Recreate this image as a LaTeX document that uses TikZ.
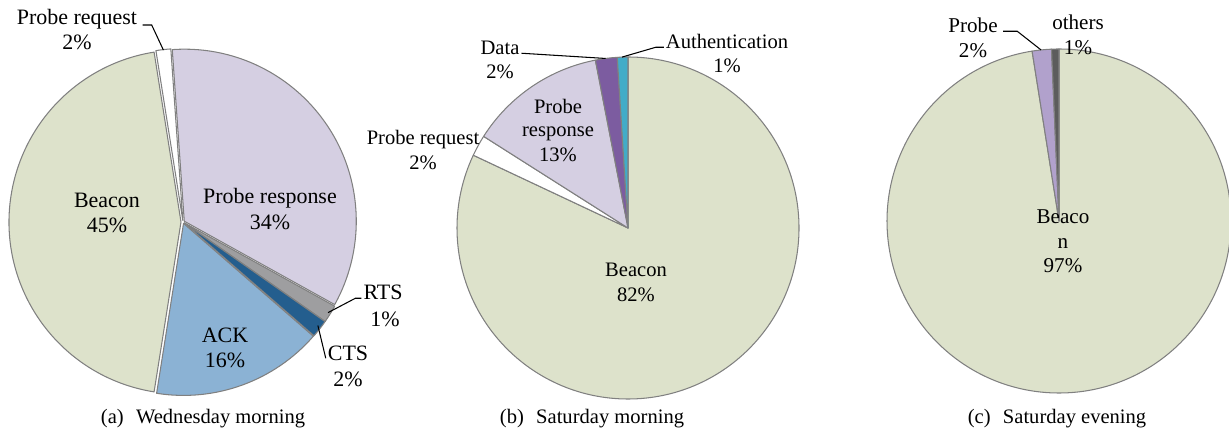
\documentclass[tikz,border=0pt]{standalone}
\usepackage{fontspec}
\setmainfont{Liberation Serif}

\definecolor{beacon}{RGB}{221,226,203}
\definecolor{prresp}{RGB}{213,207,226}
\definecolor{ack}{RGB}{139,178,212}
\definecolor{cts}{RGB}{36,94,142}
\definecolor{rts}{RGB}{158,158,160}
\definecolor{data}{RGB}{124,92,160}
\definecolor{auth}{RGB}{66,172,200}
\definecolor{probe}{RGB}{177,161,204}
\definecolor{others}{RGB}{92,92,92}
\definecolor{rim}{RGB}{128,128,128}

\begin{document}
\begin{tikzpicture}[x=0.02cm,y=0.02cm,
    slice/.style={draw=rim,line width=0.6pt,line join=round},
    leader/.style={draw=black,line width=0.6pt},
    lbl/.style={anchor=base,inner sep=1pt},
    subcap/.style={anchor=base,inner sep=0pt,font=\fontsize{11.7}{14}\selectfont}]
  \useasboundingbox (0,0) rectangle (1229,429);

  % (a) Wednesday morning, slices pulled apart a little
  \begin{scope}[font=\fontsize{12.5}{15}\selectfont]
    \coordinate (ca) at (183,207);
    \filldraw[slice,fill=prresp] ([shift={(32.5:1.5)}]ca) -- ++(94:172)
      arc[start angle=94,end angle=-29,radius=172] -- cycle;
    \filldraw[slice,fill=rts] ([shift={(-32:1.5)}]ca) -- ++(-29:172)
      arc[start angle=-29,end angle=-35,radius=172] -- cycle;
    \filldraw[slice,fill=cts] ([shift={(-38:1.5)}]ca) -- ++(-35:172)
      arc[start angle=-35,end angle=-41,radius=172] -- cycle;
    \filldraw[slice,fill=ack] ([shift={(-70:1.5)}]ca) -- ++(-41:172)
      arc[start angle=-41,end angle=-99,radius=172] -- cycle;
    \filldraw[slice,fill=beacon] ([shift={(-180:2)}]ca) -- ++(-99:172)
      arc[start angle=-99,end angle=-261,radius=172] -- cycle;
    \filldraw[slice,fill=white] ([shift={(96.5:1.5)}]ca) -- ++(99:172)
      arc[start angle=99,end angle=94,radius=172] -- cycle;

    \path (ca) ++(96.5:173) coordinate (a-rqt)
          (ca) ++(-32:171) coordinate (a-rtst)
          (ca) ++(-37.5:170) coordinate (a-ctst);

    \node[lbl] (a-rq)   at (77,404) {Probe request};
    \node[lbl] (a-rqp)  at (77,379) {2\%};
    \node[lbl] (a-bc)   at (107,221) {Beacon};
    \node[lbl] (a-bcp)  at (107,196) {45\%};
    \node[lbl] (a-pr)   at (270,225) {Probe response};
    \node[lbl] (a-prp)  at (270,199) {34\%};
    \node[lbl] (a-ack)  at (225,86) {ACK};
    \node[lbl] (a-ackp) at (225,61) {16\%};
    \node[lbl] (a-rts)  at (383,129) {RTS};
    \node[lbl] (a-rtsp) at (385,102) {1\%};
    \node[lbl] (a-cts)  at (348,69) {CTS};
    \node[lbl] (a-ctsp) at (348,43) {2\%};

    \draw[leader] ([xshift=2pt]a-rq.base east) -- ++(9,0) -- (a-rqt);
    \draw[leader] ([yshift=1pt]a-rts.base west) -- ++(-6,0) -- (a-rtst);
    \draw[leader] ([yshift=1pt]a-cts.base west) -- (a-ctst);

    \node[subcap] (a-cap) at (203,6) {(a)\hspace{0.6em}Wednesday morning};
  \end{scope}

  % (b) Saturday morning
  \begin{scope}[font=\fontsize{11.7}{14}\selectfont]
    \coordinate (cb) at (628,201);
    \filldraw[slice,fill=beacon] (cb) -- ++(90:171)
      arc[start angle=90,end angle=-205.2,radius=171] -- cycle;
    \filldraw[slice,fill=white] (cb) -- ++(154.8:171)
      arc[start angle=154.8,end angle=147.6,radius=171] -- cycle;
    \filldraw[slice,fill=prresp] (cb) -- ++(147.6:171)
      arc[start angle=147.6,end angle=101,radius=171] -- cycle;
    \filldraw[slice,fill=data] (cb) -- ++(101:171)
      arc[start angle=101,end angle=93.6,radius=171] -- cycle;
    \filldraw[slice,fill=auth] (cb) -- ++(93.6:171)
      arc[start angle=93.6,end angle=90,radius=171] -- cycle;

    \path (cb) ++(97.5:171) coordinate (b-datat)
          (cb) ++(92:171) coordinate (b-autht);

    \node[lbl] (b-data)  at (500,374) {Data};
    \node[lbl] (b-datap) at (500,350) {2\%};
    \node[lbl] (b-auth)  at (727,380) {Authentication};
    \node[lbl] (b-authp) at (727,356) {1\%};
    \node[lbl] (b-rq)    at (423,284) {Probe request};
    \node[lbl] (b-rqp)   at (423,259) {2\%};
    \node[lbl] (b-pr)    at (558,315) {Probe};
    \node[lbl] (b-pr2)   at (558,292) {response};
    \node[lbl] (b-prp)   at (558,267) {13\%};
    \node[lbl] (b-bc)    at (636,152) {Beacon};
    \node[lbl] (b-bcp)   at (636,127) {82\%};

    \draw[leader] ([yshift=1pt]b-data.base east) -- (b-datat);
    \draw[leader] ([yshift=1pt]b-auth.base west) -- ++(-8,0) -- (b-autht);

    \node[subcap] (b-cap) at (592,6) {(b)\hspace{0.6em}Saturday morning};
  \end{scope}

  % (c) Saturday evening
  \begin{scope}[font=\fontsize{12}{14.5}\selectfont]
    \coordinate (cc) at (1059,208);
    \filldraw[slice,fill=beacon] (cc) -- ++(90:172)
      arc[start angle=90,end angle=-261,radius=172] -- cycle;
    \filldraw[slice,fill=probe] (cc) -- ++(99:172)
      arc[start angle=99,end angle=92.5,radius=172] -- cycle;
    \filldraw[slice,fill=others] (cc) -- ++(92.5:172)
      arc[start angle=92.5,end angle=90,radius=172] -- cycle;

    \path (cc) ++(96:172) coordinate (c-prt);

    \node[lbl] (c-pr)   at (973,396) {Probe};
    \node[lbl] (c-prp)  at (973,371) {2\%};
    \node[lbl] (c-oth)  at (1078,399) {others};
    \node[lbl] (c-othp) at (1078,374) {1\%};
    \node[lbl] (c-bc)   at (1063,205) {Beaco};
    \node[lbl] (c-bc2)  at (1063,180) {n};
    \node[lbl] (c-bcp)  at (1063,156) {97\%};

    \draw[leader] ([xshift=2pt,yshift=1pt]c-pr.base east) -- ++(14,0) -- (c-prt);

    \node[subcap] (c-cap) at (1057,6) {(c)\hspace{0.6em}Saturday evening};
  \end{scope}
\end{tikzpicture}
\end{document}
